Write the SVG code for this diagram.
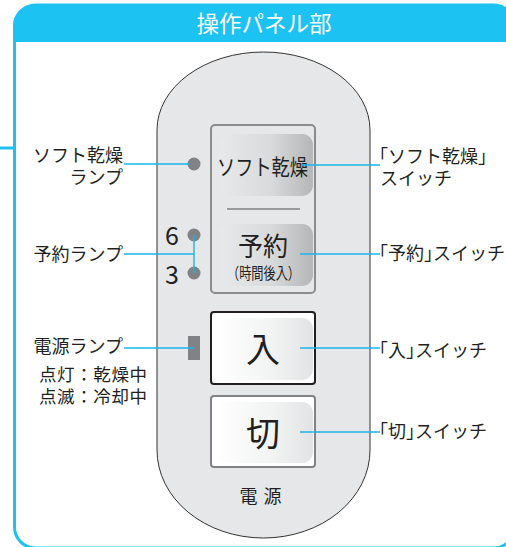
<svg xmlns="http://www.w3.org/2000/svg" width="506" height="547" viewBox="0 0 506 547">
<style>
text{font-family:"Noto Sans CJK JP","Noto Sans",sans-serif;fill:#231f20}
.lbl{font-size:18px}
.sub{font-size:17.5px;letter-spacing:0.6px}
.br{font-feature-settings:"halt"}
.conn{stroke:#1ab4ea;stroke-width:1.4;fill:none}
.lamp{fill:#808285}
</style>
<defs>
<linearGradient id="g1" x1="0" y1="0" x2="1" y2="0">
<stop offset="0" stop-color="#e8e9ea"/>
<stop offset="0.55" stop-color="#d9dadb"/>
<stop offset="1" stop-color="#b5b6b8"/>
</linearGradient>
<linearGradient id="g2" x1="0" y1="0" x2="1" y2="0">
<stop offset="0" stop-color="#ffffff"/>
<stop offset="0.6" stop-color="#f1f2f2"/>
<stop offset="1" stop-color="#e2e3e4"/>
</linearGradient>
</defs>
<g id="frame">
<rect x="14.5" y="5" width="500" height="543" rx="21" fill="#fff" stroke="#1cc3f2" stroke-width="3"/>
<path d="M13,42 V26 A21,21 0 0 1 34,5 H495 A21,21 0 0 1 516,26 V42 Z" fill="#1cc3f2"/>
<text x="264" y="32" font-size="22.5" text-anchor="middle" style="fill:#fff">操作パネル部</text>
<line x1="0" y1="148" x2="14" y2="148" stroke="#1cc3f2" stroke-width="3"/>
</g>
<g id="panel">
<path d="M157,130 A106.5,78 0 0 1 370,130 L370,450 A106.5,88 0 0 1 157,450 Z" fill="#e6e7e8" stroke="#333" stroke-width="1"/>
<text x="263.5" y="503" font-size="18" text-anchor="middle" letter-spacing="6">電源</text>
</g>
<g id="upper-switches">
<rect x="211" y="125" width="104" height="168" rx="4" fill="none" stroke="#8a8b8d" stroke-width="2"/>
<line x1="227" y1="209" x2="300" y2="209" stroke="#9a9b9d" stroke-width="2"/>
</g>
<g id="soft-switch">
<rect x="219" y="134" width="94" height="62" rx="11" fill="url(#g1)"/>
<text x="217" y="175" font-size="22" textLength="91" lengthAdjust="spacingAndGlyphs">ソフト乾燥</text>
</g>
<g id="yoyaku-switch">
<rect x="219" y="224" width="94" height="62" rx="11" fill="url(#g1)"/>
<text x="238" y="256" font-size="26" textLength="50" lengthAdjust="spacingAndGlyphs">予約</text>
<text x="227" y="279" font-size="16" textLength="73" lengthAdjust="spacingAndGlyphs">（時間後入）</text>
</g>
<g id="on-switch">
<rect x="211" y="312" width="104" height="72" rx="3" fill="#fff" stroke="#231f20" stroke-width="2"/>
<rect x="217" y="318" width="96" height="62" rx="11" fill="url(#g2)"/>
<text x="263" y="362" font-size="34" text-anchor="middle">入</text>
</g>
<g id="off-switch">
<rect x="211" y="396" width="104" height="71" rx="3" fill="#fff" stroke="#808285" stroke-width="2"/>
<rect x="217" y="402" width="96" height="61" rx="11" fill="url(#g2)"/>
<text x="263" y="446" font-size="34" text-anchor="middle">切</text>
</g>
<g id="soft-lamp">
<circle class="lamp" cx="194" cy="164" r="6.5"/>
</g>
<g id="yoyaku-lamps">
<circle class="lamp" cx="194" cy="235" r="6.5"/>
<circle class="lamp" cx="194" cy="273" r="6.5"/>
<text x="172" y="245" font-size="25" text-anchor="middle">6</text>
<text x="172" y="284" font-size="25" text-anchor="middle">3</text>
</g>
<g id="power-lamp">
<rect class="lamp" x="188" y="336" width="12" height="24"/>
</g>
<g id="connectors">
<line class="conn" x1="124" y1="164" x2="189" y2="164"/>
<line class="conn" x1="124" y1="254" x2="194" y2="254"/>
<line class="conn" x1="194" y1="235" x2="194" y2="273"/>
<line class="conn" x1="124" y1="348" x2="194" y2="348"/>
<line class="conn" x1="302" y1="165" x2="380" y2="165"/>
<line class="conn" x1="300" y1="254" x2="380" y2="254"/>
<line class="conn" x1="300" y1="348" x2="380" y2="348"/>
<line class="conn" x1="300" y1="432" x2="380" y2="432"/>
</g>
<g id="left-labels">
<text class="lbl" x="123" y="162" text-anchor="end">ソフト乾燥</text>
<text class="lbl" x="123" y="184" text-anchor="end">ランプ</text>
<text class="lbl" x="123" y="261" text-anchor="end">予約ランプ</text>
<text class="lbl" x="123" y="353" text-anchor="end">電源ランプ</text>
<text class="sub" x="39" y="381">点灯：乾燥中</text>
<text class="sub" x="39" y="403">点滅：冷却中</text>
</g>
<g id="right-labels">
<text class="lbl" x="379" y="163"><tspan class="br">「</tspan>ソフト乾燥<tspan class="br">」</tspan></text>
<text class="lbl" x="380" y="185">スイッチ</text>
<text class="lbl" x="379" y="260"><tspan class="br">「</tspan>予約<tspan class="br">」</tspan>スイッチ</text>
<text class="lbl" x="379" y="357"><tspan class="br">「</tspan>入<tspan class="br">」</tspan>スイッチ</text>
<text class="lbl" x="379" y="438"><tspan class="br">「</tspan>切<tspan class="br">」</tspan>スイッチ</text>
</g>
</svg>
